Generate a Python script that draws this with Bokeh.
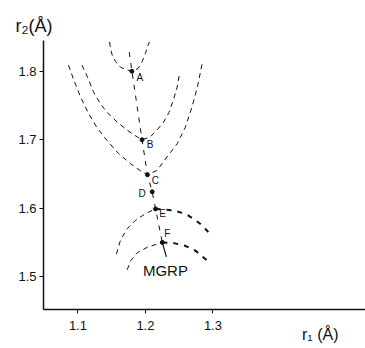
from bokeh.plotting import figure
from bokeh.models import FixedTicker, Label, Range1d, Title
from bokeh.core.properties import value
from bokeh.embed import file_html
from bokeh.resources import INLINE

FONT = "Liberation Sans"

# Stationary points along the reaction path (r1, r2 in Angstrom)
pt_names = ["A", "B", "C", "D", "E", "F"]
pt_r1 = [1.180, 1.195, 1.203, 1.210, 1.215, 1.225]
pt_r2 = [1.800, 1.700, 1.649, 1.624, 1.599, 1.550]

# reaction path (dashed) from above A through F
path_r1 = [1.176, 1.180, 1.195, 1.203, 1.210, 1.215, 1.225]
path_r2 = [1.828, 1.800, 1.700, 1.649, 1.624, 1.599, 1.550]

# solid stroke from F to the MGRP label
mgrp_r1 = [1.225, 1.231]
mgrp_r2 = [1.550, 1.529]

# Contour curves (dashed)
curveA_r1 = [1.147, 1.148, 1.151, 1.156, 1.163, 1.173, 1.180, 1.189, 1.195, 1.200, 1.203, 1.206]
curveA_r2 = [1.843, 1.834, 1.823, 1.814, 1.806, 1.802, 1.800, 1.804, 1.814, 1.826, 1.836, 1.843]

curveB_r1 = [1.106, 1.114, 1.123, 1.133, 1.143, 1.158, 1.173, 1.188, 1.195,
             1.207, 1.217, 1.227, 1.235, 1.242, 1.247, 1.251]
curveB_r2 = [1.809, 1.792, 1.770, 1.753, 1.740, 1.726, 1.714, 1.704, 1.700,
             1.704, 1.714, 1.726, 1.740, 1.760, 1.777, 1.799]

curveC_r1 = [1.086, 1.094, 1.104, 1.116, 1.128, 1.143, 1.160, 1.178, 1.195, 1.203,
             1.217, 1.232, 1.247, 1.259, 1.269, 1.277, 1.284]
curveC_r2 = [1.809, 1.787, 1.762, 1.738, 1.718, 1.699, 1.680, 1.665, 1.653, 1.649,
             1.655, 1.675, 1.694, 1.718, 1.748, 1.777, 1.811]

arcE_left_r1 = [1.157, 1.163, 1.173, 1.185, 1.200, 1.215]
arcE_left_r2 = [1.533, 1.553, 1.570, 1.582, 1.592, 1.599]
arcE_right_r1 = [1.215, 1.240, 1.259, 1.272, 1.284, 1.295]
arcE_right_r2 = [1.599, 1.597, 1.592, 1.584, 1.575, 1.563]

arcF_left_r1 = [1.173, 1.178, 1.188, 1.203, 1.225]
arcF_left_r2 = [1.510, 1.523, 1.535, 1.543, 1.550]
arcF_right_r1 = [1.225, 1.242, 1.259, 1.274, 1.291]
arcF_right_r2 = [1.550, 1.549, 1.545, 1.538, 1.524]

x_ticks = [1.1, 1.2, 1.3]
y_ticks = [1.5, 1.6, 1.7, 1.8]

p = figure(width=365, height=348, output_backend="svg", toolbar_location=None,
           x_range=Range1d(1.049, 1.526), y_range=Range1d(1.452, 1.845),
           min_border_left=43, min_border_right=0, min_border_top=40, min_border_bottom=39)
p.outline_line_color = None
p.xgrid.visible = False
p.ygrid.visible = False
p.background_fill_color = "white"

for ax, ticks in ((p.xaxis[0], x_ticks), (p.yaxis[0], y_ticks)):
    ax.ticker = FixedTicker(ticks=ticks)
    ax.minor_tick_line_color = None
    ax.major_tick_in = 0
    ax.major_tick_out = 4
    ax.axis_line_width = 1.5
    ax.axis_line_color = "#111111"
    ax.major_tick_line_color = "#111111"
    ax.major_label_text_font = FONT
    ax.major_label_text_font_size = "13px"
    ax.major_label_text_color = "#111111"
p.xaxis[0].major_label_standoff = 7
p.yaxis[0].major_label_standoff = 3

dash = "5 4"
for xs, ys in ((curveA_r1, curveA_r2), (curveB_r1, curveB_r2), (curveC_r1, curveC_r2),
               (arcE_left_r1, arcE_left_r2), (arcF_left_r1, arcF_left_r2)):
    p.line(xs, ys, line_color="#111111", line_width=1, line_dash=dash)
for xs, ys in ((arcE_right_r1, arcE_right_r2), (arcF_right_r1, arcF_right_r2)):
    p.line(xs, ys, line_color="#111111", line_width=2, line_dash="5 6")

p.line(path_r1, path_r2, line_color="#111111", line_width=1, line_dash="5 6")
p.line(mgrp_r1, mgrp_r2, line_color="#111111", line_width=1.2)

p.scatter(pt_r1, pt_r2, size=4, color="#111111")

offsets_x = [8, 8, 8, -10, 7, 5]
offsets_y = [6, 5, 6, 2, 5, -9]
for name, x, y, dx, dy in zip(pt_names, pt_r1, pt_r2, offsets_x, offsets_y):
    p.text([x], [y], text=[name], x_offset=dx, y_offset=dy, text_font=value(FONT),
           text_font_size="10px", text_align="center", text_baseline="middle",
           text_color="#111111")

p.add_layout(Label(x=1.2296, y=1.5086, text="MGRP", text_font=FONT, text_font_size="15px",
                   text_align="center", text_baseline="middle", text_color="#111111"))

p.add_layout(Title(text="r₂(Å)", align="left", offset=-28, text_font=FONT,
                   text_font_size="18px", text_font_style="normal", text_color="#111111"),
             "above")
xt = Title(text="r₁ (Å)", align="right", offset=27, standoff=0, vertical_align="top",
           text_font=FONT, text_font_size="16px", text_font_style="normal",
           text_color="#111111")
try:
    xt.standoff = -14
except Exception:
    pass
p.add_layout(xt, "below")

open("out.html", "w").write(file_html(p, INLINE))
